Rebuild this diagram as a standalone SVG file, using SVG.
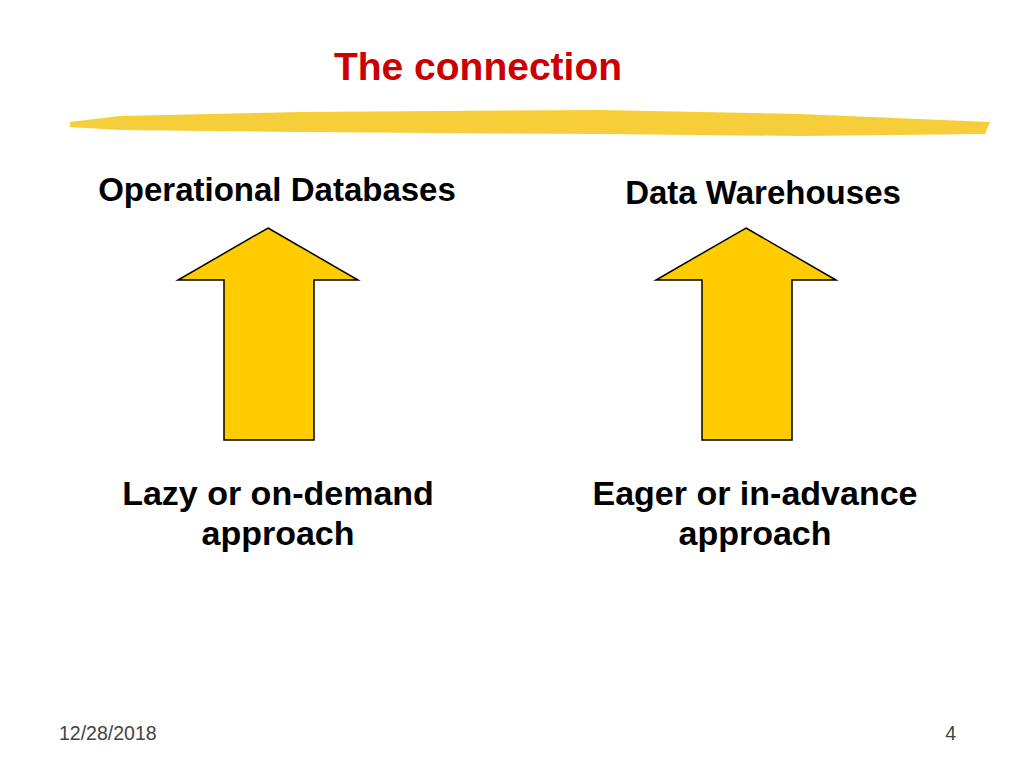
<svg xmlns="http://www.w3.org/2000/svg" width="1024" height="768" viewBox="0 0 1024 768">
<style>
.t{font-family:"Liberation Sans",Arial,sans-serif;font-weight:bold;fill:#000;text-anchor:middle}
.a{fill:#ffcc00;stroke:#000;stroke-width:1.5}
.f{font-family:"Liberation Sans",Arial,sans-serif;font-size:19.5px;fill:#444}
</style>
<rect width="1024" height="768" fill="#fff"/>
<text x="478" y="80" class="t" style="fill:#cc0000;font-size:39px">The connection</text>
<path d="M70 122 L120 116 L300 112 L600 110 L800 114 L990 122 L985 134 L800 136 L600 134 L300 132 L120 130 L70 127 Z" fill="#f5c518" opacity="0.85"/>
<g id="n1"><text x="277" y="201" class="t" font-size="33">Operational Databases</text></g>
<g id="n2"><text x="763" y="204" class="t" font-size="33">Data Warehouses</text></g>
<g id="arrows">
<polygon class="a" points="268,228 358,280 314,280 314,440 224,440 224,280 178,280"/>
<polygon class="a" points="746,228 836,280 792,280 792,440 702,440 702,280 656,280"/>
</g>
<g id="n3"><text x="278" y="505" class="t" font-size="34">Lazy or on-demand</text><text x="278" y="545" class="t" font-size="34">approach</text></g>
<g id="n4"><text x="755" y="505" class="t" font-size="34">Eager or in-advance</text><text x="755" y="545" class="t" font-size="34">approach</text></g>
<text x="59" y="740" class="f">12/28/2018</text>
<text x="956" y="740" class="f" text-anchor="end">4</text>
</svg>
